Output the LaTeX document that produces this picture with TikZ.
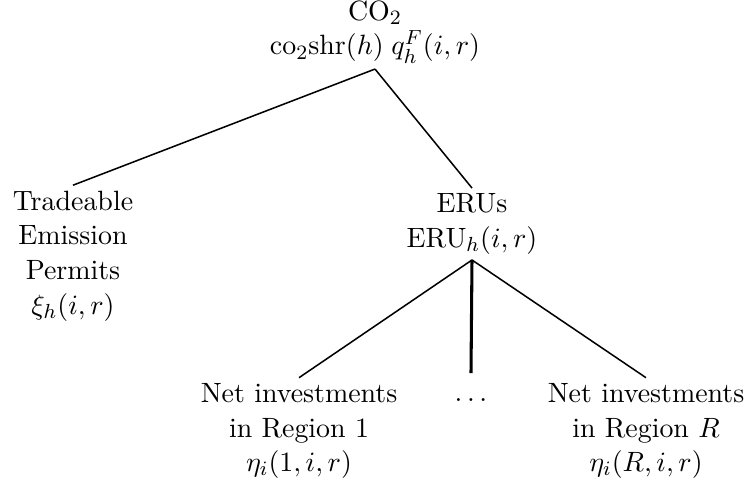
\documentclass[tikz,border=0pt]{standalone}
\usepackage{amsmath}
\usepackage{tikz}

\begin{document}
\begin{tikzpicture}[x=0.3922pt,y=-0.3922pt]
\tikzstyle{every node}+=[inner xsep=0pt,inner ysep=2pt,align=center,font=\fontsize{10.95}{13.6}\selectfont]
\useasboundingbox (0,0) rectangle (751,486);
\node (co2) at (375,32) {CO$_2$\\co$_2$shr$(h)$\;$q^F_h(i,r)$};
\node (tep) at (73,256) {Tradeable\\Emission\\Permits\\$\xi_h(i,r)$};
\node (eru) at (472,224) {ERUs\\ERU$_h(i,r)$};
\node (net1) at (299,431) {Net investments\\in Region 1\\$\eta_i(1,i,r)$};
\node (dots) [outer ysep=8pt] at (471,400) {$\ldots$};
\node (netR) at (646,431) {Net investments\\in Region $R$\\$\eta_i(R,i,r)$};
\draw [black,line width=0.6pt] (co2.south) -- (tep.north);
\draw [black,line width=0.6pt] (co2.south) -- (eru.north);
\draw [black,line width=0.6pt] (eru.south) -- (net1.north);
\draw [black,line width=1.2pt] (eru.south) -- (dots.north);
\draw [black,line width=0.6pt] (eru.south) -- (netR.north);
\end{tikzpicture}
\end{document}
